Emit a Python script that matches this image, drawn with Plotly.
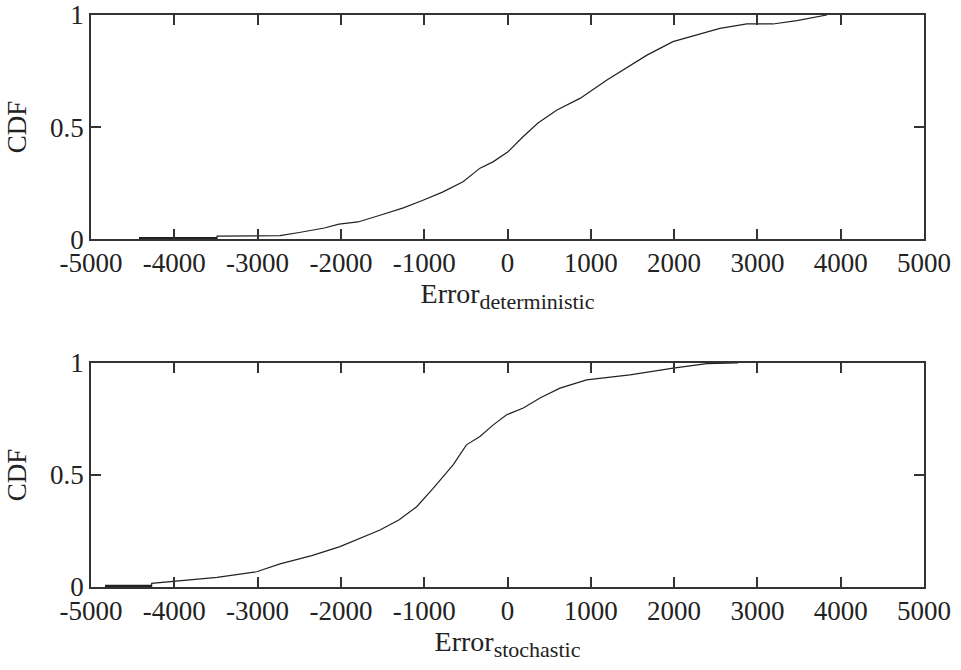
import plotly.graph_objects as go
from plotly.subplots import make_subplots

# Deterministic error CDF
det_err = [-4424, -3487, -3487, -2731, -2500, -2200, -2023, -1795, -1530, -1250, -1015, -780,
           -534, -330, -174, 6, 186, 366, 594, 870, 1194, 1386, 1674, 1986, 2274, 2550,
           2874, 3186, 3474, 3714, 3834]
det_cdf = [0.003, 0.003, 0.014, 0.016, 0.03, 0.05, 0.067, 0.077, 0.107, 0.14, 0.174, 0.21,
           0.256, 0.317, 0.345, 0.39, 0.457, 0.518, 0.576, 0.628, 0.71, 0.754, 0.821, 0.881,
           0.911, 0.94, 0.96, 0.96, 0.975, 0.99, 1.0]

# Stochastic error CDF
sto_err = [-4832, -4272, -4272, -4016, -3487, -3011, -2731, -2350, -2011, -1531, -1300,
           -1090, -893, -653, -493, -331, -171, -10, 190, 390, 630, 950, 1470, 1990, 2390, 2770]
sto_cdf = [0.003, 0.003, 0.016, 0.024, 0.043, 0.068, 0.103, 0.14, 0.18, 0.254, 0.3,
           0.358, 0.44, 0.545, 0.634, 0.671, 0.723, 0.768, 0.798, 0.843, 0.887, 0.924,
           0.946, 0.976, 0.996, 1.0]

x_ticks = [-5000, -4000, -3000, -2000, -1000, 0, 1000, 2000, 3000, 4000, 5000]
x_labels = ["-5000", "-4000", "-3000", "-2000", "-1000", "0", "1000", "2000", "3000", "4000", "5000"]
y_ticks = [0, 0.5, 1]
y_labels = ["0", "0.5", "1"]
x_titles = ["Error<sub><span style='font-size:22px'>deterministic</span></sub>",
            "Error<sub><span style='font-size:22px'>stochastic</span></sub>"]

fig = make_subplots(rows=2, cols=1, vertical_spacing=0.216)

for row, (xs, ys) in enumerate([(det_err, det_cdf), (sto_err, sto_cdf)], start=1):
    fig.add_trace(go.Scatter(x=xs, y=ys, mode="lines",
                             line=dict(color="#222", width=1.2), showlegend=False),
                  row=row, col=1)
    fig.add_trace(go.Scatter(x=xs[:2], y=ys[:2], mode="lines",
                             line=dict(color="#222", width=3), showlegend=False),
                  row=row, col=1)

font = dict(family="Liberation Serif", size=27, color="#222")
title_font = dict(family="Liberation Serif", size=28, color="#222")
for row in (1, 2):
    fig.update_xaxes(range=[-5000, 5000], tickvals=x_ticks, ticktext=x_labels, ticks="inside",
                     ticklen=10, tickwidth=1.5, tickcolor="#333", showline=True, linecolor="#333",
                     linewidth=1.5, mirror="ticks", showgrid=False, zeroline=False,
                     tickfont=font, ticklabelstandoff=-1, automargin=False,
                     title=dict(text=x_titles[row - 1], font=title_font, standoff=6),
                     row=row, col=1)
    fig.update_yaxes(range=[0, 1], tickvals=y_ticks, ticktext=y_labels, ticks="inside",
                     ticklen=10, tickwidth=1.5, tickcolor="#333", showline=True,
                     linecolor="#333", linewidth=1.5, mirror="ticks", showgrid=False,
                     zeroline=False, tickfont=font, automargin=False,
                     title=dict(text="CDF", font=font, standoff=16), row=row, col=1)

fig.update_layout(width=961, height=670, margin=dict(l=91, r=37, t=15, b=83),
                  plot_bgcolor="white", paper_bgcolor="white")

fig.write_html("out.html")
